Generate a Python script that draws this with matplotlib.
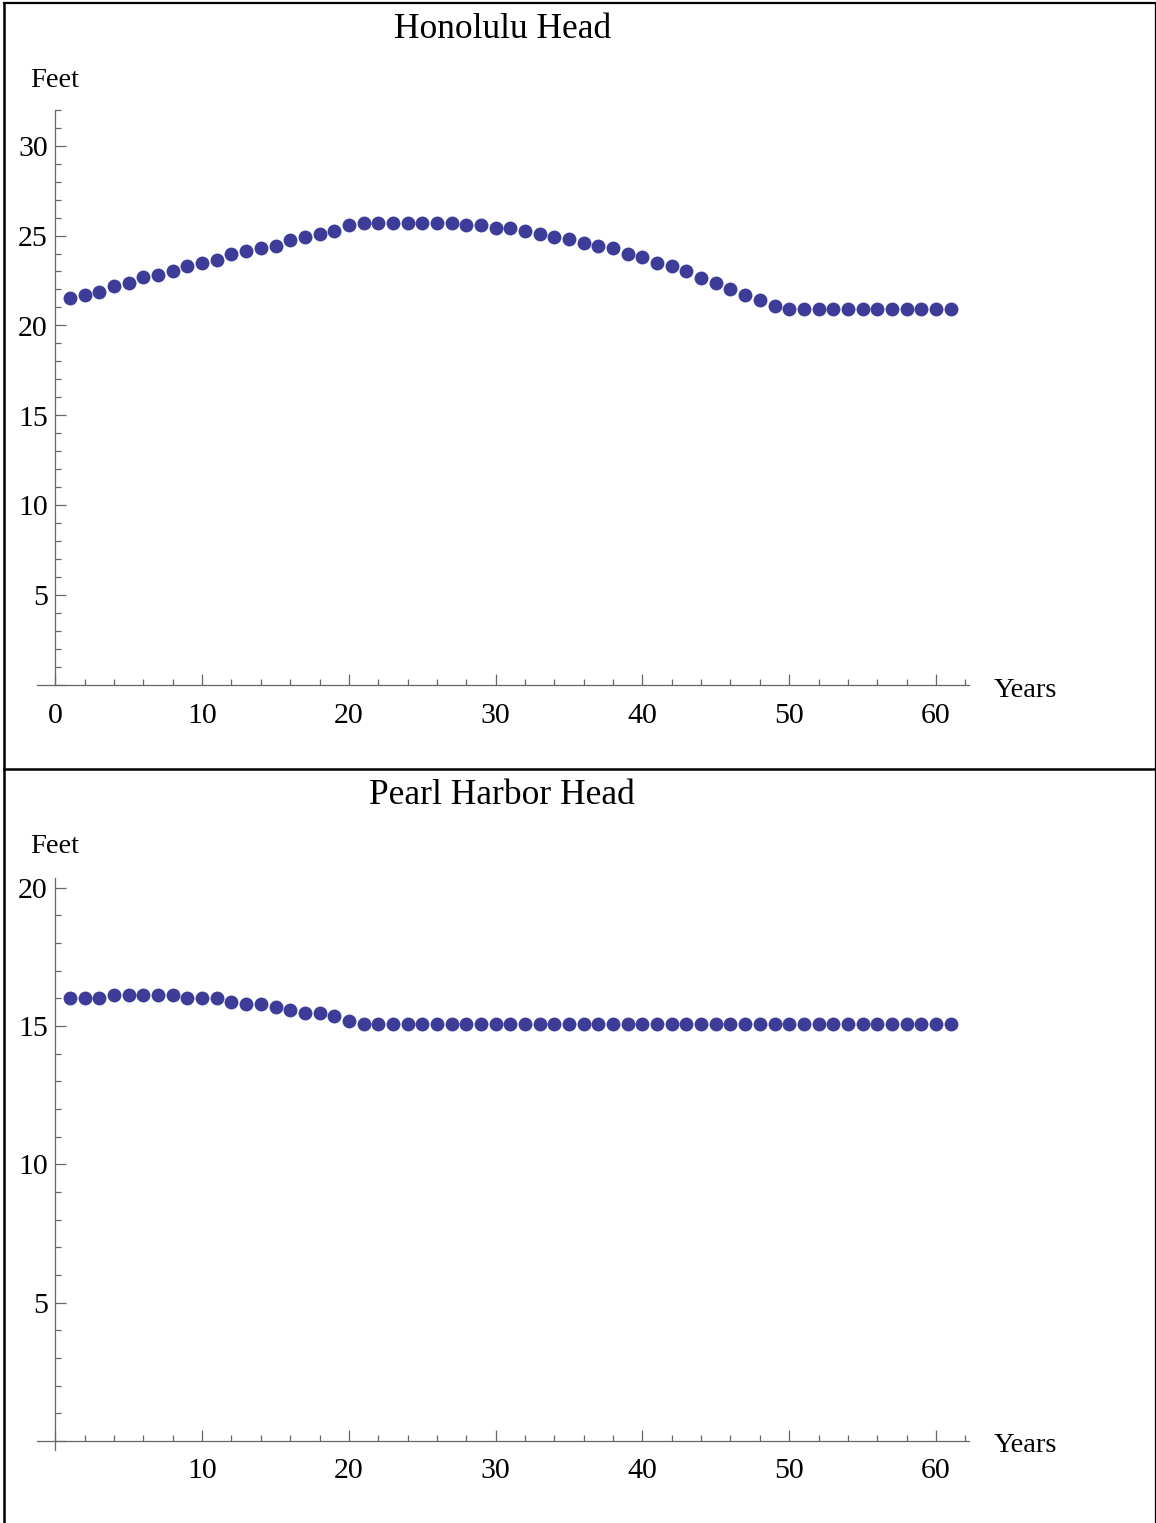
import matplotlib
matplotlib.use("Agg")
import matplotlib.pyplot as plt
from matplotlib.lines import Line2D

# Jahre (x) und Wasserstand in Fuss fuer beide Koepfe.
years = list(range(1, 62))

honolulu_feet = [
  21.55, 21.70, 21.87, 22.20, 22.35, 22.68, 22.83, 23.00, 23.33, 23.48,
  23.65, 23.96, 24.13, 24.28, 24.43, 24.76, 24.93, 25.08, 25.26, 25.58,
  25.72, 25.72, 25.72, 25.72, 25.72, 25.72, 25.72, 25.58, 25.58, 25.41,
  25.41, 25.26, 25.08, 24.93, 24.78, 24.61, 24.44, 24.28, 23.96, 23.80,
  23.48, 23.31, 23.00, 22.66, 22.35, 22.03, 21.70, 21.39, 21.07, 20.90,
  20.90, 20.90, 20.90, 20.90, 20.90, 20.90, 20.90, 20.90, 20.90, 20.90,
  20.90
]

pearl_harbor_feet = [
  16.00, 16.00, 16.00, 16.12, 16.12, 16.12, 16.12, 16.12, 16.00, 16.00,
  16.00, 15.88, 15.81, 15.81, 15.69, 15.58, 15.48, 15.48, 15.37, 15.17
] + [15.06] * 41

titles = ["Honolulu Head", "Pearl Harbor Head"]
x_major = [0, 10, 20, 30, 40, 50, 60]
x_minor = list(range(0, 63, 2))

W, H = 1156, 1523
dot_color = "#3d3d99"
axis_color = "#666666"
serif = ["Liberation Serif", "DejaVu Serif"]

fig = plt.figure(figsize=(W / 100, H / 100), dpi=100)


def fx(px):
  return px / W


def fy(py):
  return 1 - py / H


def panel(y_top_px, y_bot_px, ylim, values, y_major, y_minor, y_labels, x_labels):
  # Achsen so legen, dass die Datenkoordinaten den Pixeln der Vorlage entsprechen.
  ax = fig.add_axes([fx(37), fy(y_bot_px), fx(969) - fx(37), (y_bot_px - y_top_px) / H])
  ax.set_xlim(-1.25, 62.25)
  ax.set_ylim(*ylim)
  ax.plot(years, values, "o", color=dot_color, markersize=10, markeredgewidth=0, clip_on=False)

  for side in ["top", "right"]:
    ax.spines[side].set_visible(False)
  ax.spines["left"].set_position(("data", 0))
  ax.spines["bottom"].set_position(("data", 0))
  for side in ["left", "bottom"]:
    ax.spines[side].set_color(axis_color)
    ax.spines[side].set_linewidth(0.9)

  ax.set_xticks(x_major)
  ax.set_xticklabels(x_labels)
  ax.set_xticks(x_minor, minor=True)
  ax.set_yticks(y_major)
  ax.set_yticklabels(y_labels)
  ax.set_yticks(y_minor, minor=True)
  ax.tick_params(which="both", direction="in", color=axis_color, width=0.9)
  ax.tick_params(which="major", length=8)
  ax.tick_params(which="minor", length=4.5)
  ax.tick_params(axis="x", pad=12.5)
  ax.tick_params(axis="y", pad=5.5)
  for lab in ax.get_xticklabels() + ax.get_yticklabels():
    lab.set_fontfamily(serif)
    lab.set_fontsize(21.5)
  ax.patch.set_alpha(0)
  return ax


# Oberer Plot: Honolulu.
panel(109.5, 685.5, (0, 32), honolulu_feet,
      [0, 5, 10, 15, 20, 25, 30], list(range(0, 33)),
      ["", "5", "10", "15", "20", "25", "30"],
      ["0", "10", "20", "30", "40", "50", "60"])

# Unterer Plot: Pearl Harbor.
panel(877.6, 1450.1, (-0.33, 20.36), pearl_harbor_feet,
      [0, 5, 10, 15, 20], list(range(0, 21)),
      ["", "5", "10", "15", "20"],
      ["", "10", "20", "30", "40", "50", "60"])

# Titel und Achsenbeschriftungen.
fig.text(fx(503), fy(37.7), titles[0], ha="center", va="baseline", fontsize=25.5, family=serif)
fig.text(fx(502), fy(804.5), titles[1], ha="center", va="baseline", fontsize=25.5, family=serif)
for base in [87.3, 853.3]:
  fig.text(fx(29.7), fy(base), "Feet", ha="left", va="baseline", fontsize=20.5, family=serif)
for base in [697.3, 1452.3]:
  fig.text(fx(994), fy(base), "Years", ha="left", va="baseline", fontsize=20.5, family=serif)

# Rahmen um die beiden Plots.
frame = [
  ((4, 1154.5), (3, 3), 1.6),
  ((4, 1154.5), (769, 769), 1.8),
  ((4, 4), (3, 1523), 1.8),
  ((1154.5, 1154.5), (3, 1523), 0.9),
]
for xs, ys, lw in frame:
  fig.add_artist(Line2D([fx(x) for x in xs], [fy(y) for y in ys], color="black",
                        linewidth=lw, transform=fig.transFigure))

fig.savefig("out.png", dpi=100)
